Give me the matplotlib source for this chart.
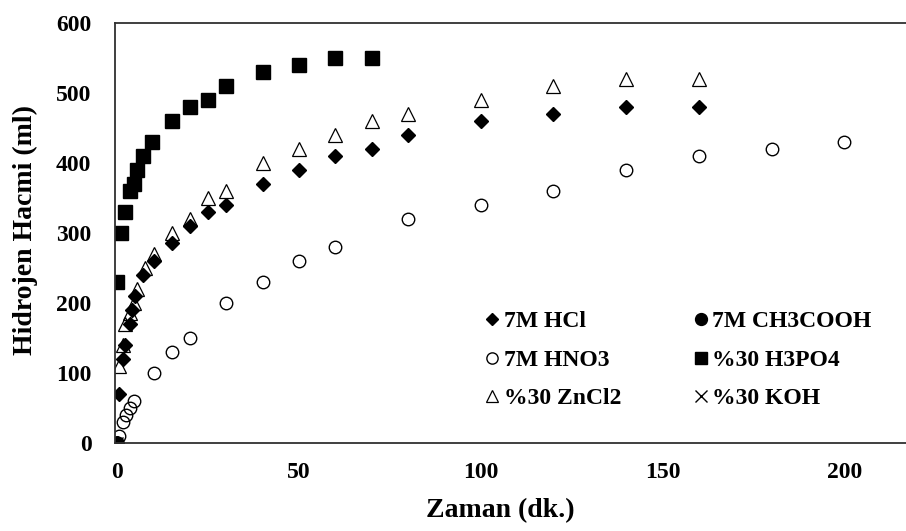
import matplotlib
matplotlib.use("Agg")
import matplotlib.pyplot as plt

plt.rcParams["font.family"] = ["Liberation Serif", "DejaVu Serif"]
plt.rcParams["font.weight"] = "bold"

# zaman (dk.) / hidrojen hacmi (ml) for each solution
t_hcl = [0, 0.5, 1.5, 2, 3.5, 4, 5, 7, 10, 15, 20, 25, 30, 40, 50, 60, 70, 80, 100, 120, 140, 160]
v_hcl = [0, 70, 120, 140, 170, 190, 210, 240, 260, 285, 310, 330, 340, 370, 390, 410, 420, 440, 460, 470, 480, 480]

t_ch3cooh = [0]
v_ch3cooh = [0]

t_hno3 = [0, 0.5, 1.5, 2.5, 3.5, 4.5, 10, 15, 20, 30, 40, 50, 60, 80, 100, 120, 140, 160, 180, 200]
v_hno3 = [0, 10, 30, 40, 50, 60, 100, 130, 150, 200, 230, 260, 280, 320, 340, 360, 390, 410, 420, 430]

t_h3po4 = [0, 1, 2, 3.5, 4.5, 5.5, 7, 9.5, 15, 20, 25, 30, 40, 50, 60, 70]
v_h3po4 = [230, 300, 330, 360, 370, 390, 410, 430, 460, 480, 490, 510, 530, 540, 550, 550]

t_zncl2 = [0, 0.5, 1.5, 2, 3.5, 4.5, 5.5, 7.5, 10, 15, 20, 25, 30, 40, 50, 60, 70, 80, 100, 120, 140, 160]
v_zncl2 = [0, 110, 140, 170, 185, 200, 220, 250, 270, 300, 320, 350, 360, 400, 420, 440, 460, 470, 490, 510, 520, 520]

t_koh = [0]
v_koh = [0]

x_ticks = [0, 50, 100, 150, 200]
y_ticks = [0, 100, 200, 300, 400, 500, 600]

fig = plt.figure(figsize=(9.06, 5.31), dpi=100)
ax = fig.add_axes([0.127, 0.166, 0.873, 0.791])

h1, = ax.plot(t_hcl, v_hcl, "D", color="black", ms=7, ls="none")
h2, = ax.plot(t_ch3cooh, v_ch3cooh, "o", color="black", ms=9.5, ls="none")
h3, = ax.plot(t_hno3, v_hno3, "o", mfc="none", mec="black", mew=1, ms=9, ls="none")
h4, = ax.plot(t_h3po4, v_h3po4, "s", color="black", ms=9.5, ls="none")
h5, = ax.plot(t_zncl2, v_zncl2, "^", mfc="none", mec="black", mew=0.9, ms=10, ls="none")
h6, = ax.plot(t_koh, v_koh, "x", color="black", mew=1, ms=9, ls="none")

ax.set_xlim(-0.6, 217)
ax.set_ylim(0, 600)
ax.set_xticks(x_ticks)
ax.set_yticks(y_ticks)
ax.tick_params(length=0, labelsize=17)
ax.tick_params(axis="x", pad=14)
ax.tick_params(axis="y", pad=17)
for lab in ax.get_xticklabels() + ax.get_yticklabels():
    lab.set_fontweight("bold")

for s in ["left", "bottom", "top"]:
    ax.spines[s].set_linewidth(1.3)
    ax.spines[s].set_color("#303030")
ax.spines["right"].set_visible(False)

fig.text(0.552, 0.038, "Zaman (dk.)", ha="center", va="center", fontsize=20, fontweight="bold")
fig.text(0.028, 0.567, "Hidrojen Hacmi (ml)", ha="center", va="center", rotation=90,
         fontsize=20, fontweight="bold")

ax.legend([h1, h3, h5, h2, h4, h6],
          ["7M HCl", "7M HNO3", "%30 ZnCl2", "7M CH3COOH", "%30 H3PO4", "%30 KOH"],
          ncol=2, frameon=False, loc="center left", bbox_to_anchor=(0.468, 0.197),
          prop={"size": 17, "weight": "bold"}, handlelength=0.6, handletextpad=0.2,
          columnspacing=3.05, labelspacing=0.72, markerscale=0.9, borderaxespad=0,
          borderpad=0)

fig.savefig("out.png", dpi=100)
